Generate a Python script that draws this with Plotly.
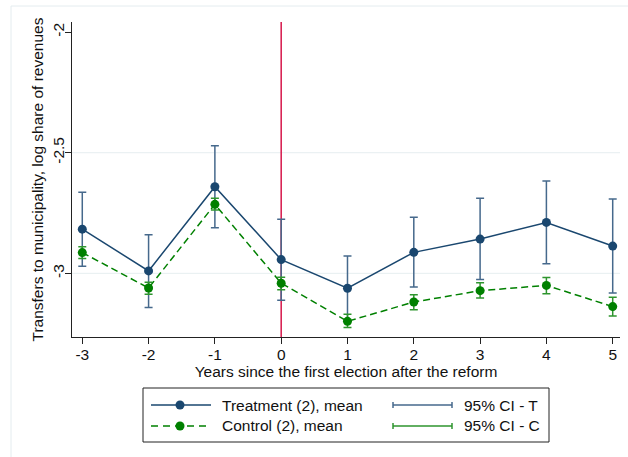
import plotly.graph_objects as go

# Event-time means and 95% confidence bounds
years = [-3, -2, -1, 0, 1, 2, 3, 4, 5]
treat_mean = [-2.817, -2.990, -2.641, -2.943, -3.062, -2.913, -2.858, -2.789, -2.887]
treat_lo = [-2.971, -3.142, -2.811, -3.112, -3.196, -3.057, -3.026, -2.960, -3.082]
treat_hi = [-2.664, -2.840, -2.471, -2.776, -2.928, -2.768, -2.689, -2.617, -2.692]
ctrl_mean = [-2.914, -3.061, -2.714, -3.041, -3.199, -3.119, -3.072, -3.050, -3.138]
ctrl_lo = [-2.939, -3.087, -2.737, -3.068, -3.225, -3.151, -3.102, -3.085, -3.177]
ctrl_hi = [-2.890, -3.037, -2.689, -3.016, -3.170, -3.089, -3.039, -3.017, -3.099]

x_ticks = [-3, -2, -1, 0, 1, 2, 3, 4, 5]
x_ticktext = ["-3", "-2", "-1", "0", "1", "2", "3", "4", "5"]
y_ticks = [-2, -2.5, -3]
y_ticktext = ["-2", "-2.5", "-3"]
grid_vals = [-2.5, -3]

y_title = "Transfers to municipality, log share of revenues"
x_title = "Years since the first election after the reform"
legend_labels = ["Treatment (2), mean", "Control (2), mean", "95% CI - T", "95% CI - C"]

NAVY = "#1a476f"
NAVY_CI = "#46698c"
GREEN = "#008000"
GREEN_CI = "#2e952e"
FONT = "Liberation Sans, Arial, sans-serif"
FS = 15.5


def plus(mean, hi):
    return [h - m for m, h in zip(mean, hi)]


def minus(mean, lo):
    return [m - l for m, l in zip(mean, lo)]


fig = go.Figure()

fig.add_trace(go.Scatter(
    x=years, y=treat_mean, mode="lines+markers",
    line=dict(color=NAVY, width=1.5),
    marker=dict(color=NAVY, size=9),
    error_y=dict(type="data", symmetric=False,
                 array=plus(treat_mean, treat_hi),
                 arrayminus=minus(treat_mean, treat_lo),
                 color=NAVY_CI, thickness=1.5, width=4),
    showlegend=False,
))
fig.add_trace(go.Scatter(
    x=years, y=ctrl_mean, mode="lines+markers",
    line=dict(color=GREEN, width=1.5, dash="7px,4px"),
    marker=dict(color=GREEN, size=9),
    error_y=dict(type="data", symmetric=False,
                 array=plus(ctrl_mean, ctrl_hi),
                 arrayminus=minus(ctrl_mean, ctrl_lo),
                 color=GREEN_CI, thickness=1.5, width=4),
    showlegend=False,
))

# Plot area in pixels: x 72..620, y 22..337
L, R, T, B = 72, 620, 22, 337
W, H = 628, 457


def px(xp):
    return (xp - L) / (R - L)


def py(yp):
    return (B - yp) / (B - T)


shapes = []
# outer graph-region frame
shapes.append(dict(type="rect", xref="paper", yref="paper",
                   x0=px(11), x1=px(660), y0=py(500), y1=py(6),
                   line=dict(color="#e4ecef", width=1), layer="below"))
# horizontal gridlines
for g in grid_vals:
    shapes.append(dict(type="line", xref="paper", yref="y", x0=0, x1=1, y0=g, y1=g,
                       line=dict(color="#e6eef0", width=1), layer="below"))
# reference line at the first post-reform election
shapes.append(dict(type="line", xref="x", yref="paper", x0=0, x1=0, y0=0, y1=1,
                   line=dict(color="#d6174a", width=1.5), layer="below"))

# legend box
shapes.append(dict(type="rect", xref="paper", yref="paper",
                   x0=px(143), x1=px(549), y0=py(442), y1=py(388),
                   line=dict(color="#222222", width=1), fillcolor="white"))
rows = [405, 426]
# mean samples
for row, col, dash in [(rows[0], NAVY, "solid"), (rows[1], GREEN, "7px,5px")]:
    shapes.append(dict(type="line", xref="paper", yref="paper",
                       x0=px(151), x1=px(211), y0=py(row), y1=py(row),
                       line=dict(color=col, width=1.5, dash=dash)))
    shapes.append(dict(type="circle", xref="paper", yref="paper",
                       xsizemode="pixel", ysizemode="pixel",
                       xanchor=px(180), yanchor=py(row),
                       x0=-4.5, x1=4.5, y0=-4.5, y1=4.5,
                       line=dict(color=col, width=0), fillcolor=col))
# CI samples with caps
for row, col in [(rows[0], NAVY_CI), (rows[1], GREEN_CI)]:
    shapes.append(dict(type="line", xref="paper", yref="paper",
                       x0=px(393), x1=px(452), y0=py(row), y1=py(row),
                       line=dict(color=col, width=1.5)))
    for cx in (393, 452):
        shapes.append(dict(type="line", xref="paper", yref="paper",
                           x0=px(cx), x1=px(cx), y0=py(row - 3), y1=py(row + 3),
                           line=dict(color=col, width=1.5)))

annotations = []
for (tx, row, text) in [(220, rows[0], legend_labels[0]), (220, rows[1], legend_labels[1]),
                        (462, rows[0], legend_labels[2]), (462, rows[1], legend_labels[3])]:
    annotations.append(dict(xref="paper", yref="paper", x=px(tx), y=py(row),
                            xanchor="left", yanchor="middle", showarrow=False,
                            text=text, font=dict(family=FONT, size=FS, color="#111111")))
# vertical axis title
annotations.append(dict(xref="paper", yref="paper", x=px(37), y=0.5,
                        xanchor="center", yanchor="middle", textangle=-90,
                        showarrow=False, text=y_title,
                        font=dict(family=FONT, size=FS, color="#111111")))

fig.update_layout(
    width=W, height=H,
    margin=dict(l=L, r=W - R, t=T, b=H - B),
    plot_bgcolor="white", paper_bgcolor="white",
    font=dict(family=FONT, size=FS, color="#111111"),
    shapes=shapes, annotations=annotations,
    showlegend=False,
)
fig.update_xaxes(
    range=[-3.155, 5.11], tickvals=x_ticks, ticktext=x_ticktext,
    showgrid=False, zeroline=False, showline=True, linecolor="#222222", linewidth=1,
    ticks="outside", ticklen=6, tickcolor="#222222", tickfont=dict(size=FS),
    ticklabelstandoff=-3,
    title=dict(text=x_title, standoff=2, font=dict(size=FS)),
)
fig.update_yaxes(
    range=[-3.264, -1.958], tickvals=y_ticks, ticktext=y_ticktext, tickangle=-90,
    showgrid=False, zeroline=False, showline=True, linecolor="#222222", linewidth=1,
    ticks="outside", ticklen=6, tickcolor="#222222", tickfont=dict(size=FS),
    ticklabelstandoff=-5,
)

fig.write_html("out.html")
